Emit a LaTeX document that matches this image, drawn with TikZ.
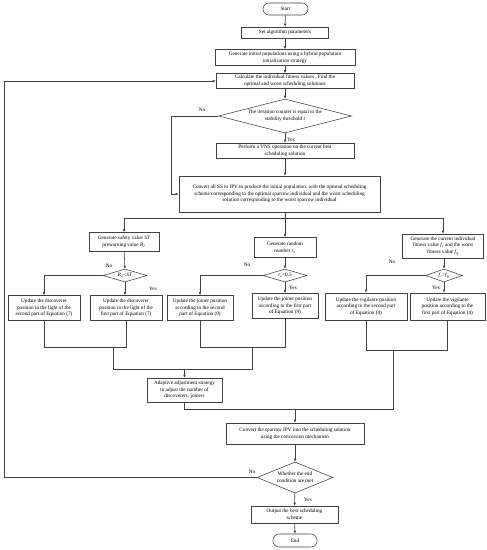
\documentclass[tikz,border=0pt]{standalone}
\usepackage{fontspec}
\setmainfont{Liberation Serif}
\usetikzlibrary{shapes.geometric,arrows.meta}
\newcommand\mvar[1]{\textit{#1}}
\newcommand\msub[2]{\textit{#1}\textsubscript{\textit{#2}}}
\begin{document}
\begin{tikzpicture}[x=1pt,y=-1pt,
  every node/.style={font=\fontsize{5.2}{6.6}\selectfont, align=center, inner sep=0.5pt},
  box/.style={draw=black!75, line width=0.55pt, rectangle},
  term/.style={draw=black!75, line width=0.55pt, rectangle, rounded corners=6pt},
  dia/.style={draw=black!75, line width=0.55pt, diamond, inner sep=0pt},
  ln/.style={draw=black!75, line width=0.55pt},
  arr/.style={ln, -{Latex[length=3pt,width=2.6pt]}},
  lab/.style={font=\fontsize{5.2}{6}\selectfont}]
\useasboundingbox (0,0) rectangle (487,550);
% main column
\node[term, minimum width=45pt, minimum height=12pt] (start) at (285.5,9) {Start};
\node[box, minimum width=87pt, minimum height=11pt] (set) at (285,32.5) {Set algorithm parameters};
\node[box, minimum width=140pt, minimum height=16pt] (init) at (285,57.5) {Generate initial populations using a hybrid population\\initialization strategy};
\node[box, minimum width=138pt, minimum height=15pt] (calc) at (285,81) {Calculate the individual fitness values , Find the\\optimal and worst scheduling solutions};
\node[dia, minimum width=133pt, minimum height=34pt] (d1) at (285,116) {};
\node at (d1.center) {The iteration counter is equal to the\\stability threshold \mvar{t}};
\node[box, minimum width=138pt, minimum height=15pt] (vns) at (285,150.5) {Perform a VNS operation on the current best\\scheduling solution};
\node[box, minimum width=201pt, minimum height=36pt] (conv) at (279.5,194) {Convert all SS to IPV to produce the initial population, with the optimal scheduling\\scheme corresponding to the optimal sparrow individual and the worst scheduling\\solution corresponding to the worst sparrow individual};
\coordinate (sp) at (285,218);
% three branches
\node[box, minimum width=70pt, minimum height=19pt] (sv) at (124,242) {Generate safety value \mvar{ST}\\prewarning value \msub{R}{2}};
\node[box, minimum width=62pt, minimum height=20pt] (rz) at (285,247.5) {Generate random\\number \msub{r}{z}};
\node[box, minimum width=81pt, minimum height=24pt] (fv) at (443,246) {Generate the current individual\\fitness value \msub{f}{i} and the worst\\fitness value \msub{f}{g}};
\node[dia, minimum width=44pt, minimum height=13pt] (dL) at (125,275.5) {};
\node at (dL.center) {\msub{R}{2}<\mvar{ST}};
\node[dia, minimum width=44pt, minimum height=13pt] (dM) at (285,275.5) {};
\node at (dM.center) {\msub{r}{z}<0.5};
\node[dia, minimum width=37pt, minimum height=13pt] (dR) at (444,275.5) {};
\node at (dR.center) {\msub{f}{i}>\msub{f}{g}};
\node[box, minimum width=72pt, minimum height=25pt] (bL1) at (44,308) {Update the discoverer\\position in the light of the\\second part of Equation (7)};
\node[box, minimum width=72pt, minimum height=25pt] (bL2) at (126,308) {Update the discoverer\\position in the light of the\\first part of  Equation (7)};
\node[box, minimum width=66pt, minimum height=25pt] (bM1) at (200,308) {Update the joiner position\\according to the second\\part of  Equation (9)};
\node[box, minimum width=66pt, minimum height=25pt] (bM2) at (285,306) {Update the joiner position\\according to the first part\\of  Equation (9)};
\node[box, minimum width=82pt, minimum height=27pt] (bR1) at (366,306.5) {Update the vigilante position\\according to the second part\\of  Equation (4)};
\node[box, minimum width=75pt, minimum height=27pt] (bR2) at (447.5,306.5) {Update the vigilante\\position according to the\\first part of  Equation (4)};
\node[box, minimum width=75pt, minimum height=24pt] (adapt) at (184.5,390) {Adaptive adjustment strategy\\to adjust the number of\\discoverers, joiners};
\node[box, minimum width=138pt, minimum height=21pt] (cs) at (295,433.5) {Convert the sparrow IPV into the scheduling solution\\using the conversion mechanism};
\node[dia, minimum width=76pt, minimum height=31pt] (d2) at (295,477.5) {};
\node at (d2.center) {Whether the end\\condition are met};
\node[box, minimum width=87pt, minimum height=17pt] (out) at (294.5,514.5) {Output the best scheduling\\scheme};
\node[term, minimum width=44pt, minimum height=13pt] (end) at (295,540.5) {End};
% connectors main
\draw[arr] (start) -- (set);
\draw[arr] (set) -- (init);
\draw[arr] (init) -- (calc);
\draw[arr] (calc) -- (d1);
\draw[arr] (d1) -- (vns);
\draw[arr] (vns.south) -- (vns.south |- conv.north);
\coordinate (n1) at (171,116);
\draw[arr] (d1.west) -- (n1) |- (conv.west);
\node[lab] at (202,110) {No};
\node[lab] at (291,140) {Yes};
\draw[ln] (conv.south -| sp) -- (sp);
\coordinate (spL) at (124,218);
\coordinate (spR) at (443,218);
\draw[ln] (spL) -- (spR);
\draw[arr] (spL) -- (sv);
\draw[arr] (sp) -- (rz);
\draw[arr] (spR) -- (fv);
\draw[arr] (sv) -- (dL);
\draw[arr] (rz) -- (dM);
\draw[arr] (fv.south -| dR) -- (dR);
% branch arrows
\draw[arr] (dL.west) -| (bL1.north);
\draw[arr] (dL.south) -- (dL.south |- bL2.north);
\draw[arr] (dM.west) -| (bM1.north);
\draw[arr] (dM.south) -- (bM2.north);
\draw[arr] (dR.west) -| (bR1.north);
\draw[arr] (dR.south) -- (dR.south |- bR2.north);
\node[lab] at (109,266) {No};
\node[lab] at (153,289) {Yes};
\node[lab] at (247,265) {No};
\node[lab] at (293,288) {Yes};
\node[lab] at (392,262) {No};
\node[lab] at (436,288) {Yes};
% merges
\coordinate (mL) at (113,347);
\coordinate (mM) at (252,347);
\coordinate (mR) at (393,350);
\coordinate (jL) at (113,369);
\coordinate (jM) at (252,369);
\coordinate (jA) at (184.5,369);
\coordinate (kA) at (184.5,409);
\coordinate (kC) at (295,409);
\coordinate (kR) at (393,409);
\draw[ln] (bL1.south) |- (bL2.south |- mL) -- (bL2.south);
\draw[ln] (mL) -- (jL) -- (jM) -- (mM);
\draw[ln] (bM1.south) |- (bM2.south |- mM) -- (bM2.south);
\draw[arr] (jA) -- (adapt);
\draw[ln] (bR1.south) |- (bR2.south |- mR) -- (bR2.south);
\draw[ln] (mR) -- (kR) -- (kA) -- (adapt.south);
\draw[arr] (kC) -- (cs);
\draw[arr] (cs) -- (d2);
\draw[arr] (d2) -- (out);
\draw[arr] (out) -- (end);
\coordinate (back1) at (4,477.5);
\coordinate (back2) at (4,81);
\draw[arr] (d2.west) -- (back1) -- (back2) -- (calc.west);
\node[lab] at (252,472) {No};
\node[lab] at (308,500) {Yes};
\end{tikzpicture}
\end{document}
